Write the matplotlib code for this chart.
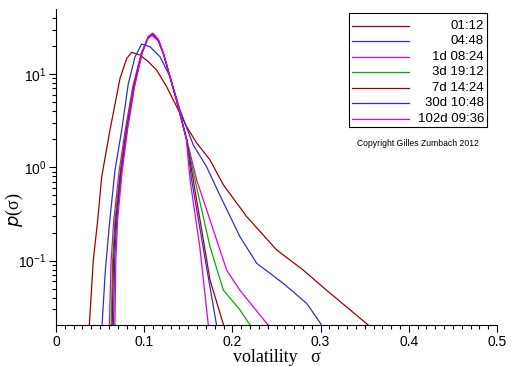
import matplotlib
matplotlib.use("Agg")
import matplotlib.pyplot as plt
from matplotlib.lines import Line2D
from matplotlib.patches import Rectangle
from matplotlib.ticker import MultipleLocator, LogLocator

plt.rcParams['font.family'] = ['Liberation Sans', 'DejaVu Sans']
plt.rcParams['mathtext.default'] = 'regular'

labels = ["01:12", "04:48", "1d 08:24", "3d 19:12", "7d 14:24", "30d 10:48", "102d 09:36"]
colors = ["#a00000", "#3030c8", "#e000e0", "#00b000", "#a00000", "#3030c8", "#e000e0"]

x_0112 = [0.0378, 0.0423, 0.0473, 0.0518, 0.0612, 0.0726, 0.0802, 0.0858, 0.0952, 0.1046, 0.1142,
          0.1255, 0.1368, 0.1482, 0.1595, 0.1746, 0.1897, 0.2162, 0.2502, 0.2804, 0.3069, 0.3540]
y_0112 = [0.0204, 0.101, 0.272, 0.79, 2.51, 9.0, 14.7, 17.1, 16.0, 13.6, 11.0,
          7.3, 4.47, 2.72, 1.82, 1.20, 0.65, 0.296, 0.130, 0.079, 0.048, 0.0204]

x_0448 = [0.0522, 0.0560, 0.0612, 0.0669, 0.0745, 0.0820, 0.0896, 0.0972, 0.1066, 0.1180, 0.1293,
          0.1406, 0.1557, 0.1708, 0.1859, 0.2086, 0.2276, 0.2577, 0.2842, 0.3012]
y_0448 = [0.0204, 0.08, 0.284, 0.935, 2.51, 7.9, 15.3, 21.0, 19.6, 15.3, 9.35,
          4.11, 1.73, 1.01, 0.50, 0.18, 0.0935, 0.057, 0.0348, 0.0204]

x_1d = [0.0605, 0.0625, 0.0655, 0.0715, 0.0785, 0.0870, 0.0965, 0.1040, 0.1090, 0.1160, 0.1217,
        0.1293, 0.1368, 0.1425, 0.1482, 0.1595, 0.1765, 0.1935, 0.2086, 0.2404]
y_1d = [0.0204, 0.1, 0.27, 0.9, 2.5, 7.3, 16.5, 24.0, 26.0, 22.5, 16.5,
        9.3, 5.2, 3.2, 2.0, 0.73, 0.241, 0.079, 0.048, 0.0204]

x_3d = [0.0625, 0.0642, 0.0668, 0.0728, 0.0795, 0.0878, 0.0970, 0.1045, 0.1095, 0.1160, 0.1217,
        0.1293, 0.1368, 0.1425, 0.1480, 0.1576, 0.1746, 0.1897, 0.2086, 0.2200]
y_3d = [0.0204, 0.1, 0.27, 0.9, 2.5, 7.3, 16.7, 25.0, 27.0, 23.2, 16.7,
        9.3, 5.2, 3.2, 2.0, 0.73, 0.141, 0.0484, 0.0296, 0.0204]

x_7d = [0.0637, 0.0652, 0.0678, 0.0735, 0.0800, 0.0882, 0.0972, 0.1046, 0.1096, 0.1160, 0.1217,
        0.1293, 0.1368, 0.1425, 0.1480, 0.1556, 0.1652, 0.1746, 0.1900]
y_7d = [0.0204, 0.1, 0.27, 0.9, 2.5, 7.3, 16.7, 25.0, 27.0, 23.2, 16.7,
        9.3, 5.2, 3.2, 2.0, 0.73, 0.213, 0.062, 0.0204]

x_30d = [0.0652, 0.0665, 0.0688, 0.0742, 0.0805, 0.0886, 0.0975, 0.1048, 0.1096, 0.1160, 0.1217,
         0.1293, 0.1368, 0.1425, 0.1480, 0.1538, 0.1667, 0.1820]
y_30d = [0.0204, 0.1, 0.27, 0.9, 2.5, 7.3, 16.7, 25.0, 27.0, 23.2, 16.7,
         9.3, 5.2, 3.2, 2.0, 0.73, 0.141, 0.0204]

x_102d = [0.0668, 0.0678, 0.0698, 0.0750, 0.0810, 0.0890, 0.0978, 0.1050, 0.1098, 0.1160, 0.1217,
          0.1293, 0.1368, 0.1425, 0.1478, 0.1520, 0.1630, 0.1727]
y_102d = [0.0204, 0.1, 0.27, 0.9, 2.5, 7.3, 17.0, 25.5, 27.5, 23.5, 16.7,
          9.3, 5.2, 3.2, 2.0, 0.73, 0.141, 0.0204]

series_x = [x_0112, x_0448, x_1d, x_3d, x_7d, x_30d, x_102d]
series_y = [y_0112, y_0448, y_1d, y_3d, y_7d, y_30d, y_102d]

fig = plt.figure(figsize=(5.12, 3.66), dpi=100)
ax = fig.add_axes([56/512, 1-325/366, 441/512, 316/366])

for xs, ys, c in zip(series_x, series_y, colors):
    ax.plot(xs, ys, color=c, lw=0.9)

ax.set_yscale('log')
ax.set_xlim(0, 0.5)
ax.set_ylim(0.0204, 49.8)
ax.spines['top'].set_visible(False)
ax.spines['right'].set_visible(False)
ax.xaxis.set_major_locator(MultipleLocator(0.1))
ax.xaxis.set_minor_locator(MultipleLocator(0.01))
ax.set_xticks([0, 0.1, 0.2, 0.3, 0.4, 0.5])
ax.set_xticklabels(["0", "0.1", "0.2", "0.3", "0.4", "0.5"])
ax.yaxis.set_major_locator(LogLocator(base=10))
ax.yaxis.set_minor_locator(LogLocator(base=10, subs=range(2, 10)))
ax.tick_params(which='major', length=5, width=0.8, labelsize=10, pad=2)
ax.tick_params(which='minor', length=3, width=0.8)

ax.set_xlabel("volatility   σ", family=['Liberation Serif', 'DejaVu Serif'], fontsize=13, labelpad=0)
fig.text(14/512, 1-210/366, "$\\it{p}$(σ)", rotation=90, ha='center', va='center',
         family=['Liberation Serif', 'DejaVu Serif'], fontsize=13)

# legend box
fig.add_artist(Rectangle((349/512, 1-127/366), 138/512, 114/366, transform=fig.transFigure,
                         fill=False, edgecolor='black', lw=0.8))
row_y = [25.7, 41.3, 56.8, 72.3, 87.8, 103.3, 118.8]
for lab, c, yy in zip(labels, colors, row_y):
    fig.add_artist(Line2D([352/512, 409/512], [1-yy/366, 1-yy/366], transform=fig.transFigure,
                          color=c, lw=0.9))
    fig.text(484/512, 1-yy/366, lab, ha='right', va='center', fontsize=9.5)
fig.text(418/512, 1-143/366, "Copyright Gilles Zumbach 2012", ha='center', va='center', fontsize=6.2)

fig.savefig("out.png", dpi=100)
